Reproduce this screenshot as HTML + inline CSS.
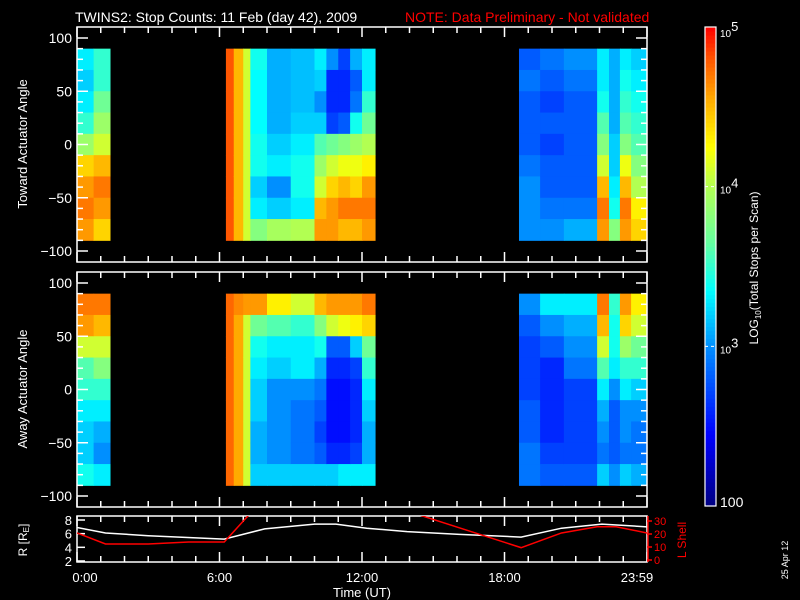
<!DOCTYPE html>
<html><head><meta charset="utf-8"><style>
html,body{margin:0;padding:0;background:#000;width:800px;height:600px;overflow:hidden}
svg{display:block;font-family:"Liberation Sans",sans-serif}
</style></head><body>
<svg id="root" width="800" height="600" viewBox="0 0 800 600">
<rect width="800" height="600" fill="#000"/>
<text x="75" y="22" fill="#fff" font-size="14">TWINS2: Stop Counts: 11 Feb (day  42), 2009</text>
<text x="405" y="22" fill="#f00" font-size="14">NOTE: Data Preliminary - Not validated</text>
<g id="spec1"></g>
<g id="spec2"></g>
<g id="axes"></g>
<g id="lines"></g>
<g id="cbar"></g>
<text transform="translate(27,144) rotate(-90)" text-anchor="middle" fill="#fff" font-size="13">Toward Actuator Angle</text>
<text transform="translate(27,389) rotate(-90)" text-anchor="middle" fill="#fff" font-size="13">Away Actuator Angle</text>
<text transform="translate(27,540) rotate(-90)" text-anchor="middle" fill="#fff" font-size="12">R [R<tspan font-size="8" dy="2">E</tspan><tspan dy="-2">]</tspan></text>
<text transform="translate(686,540) rotate(-90)" text-anchor="middle" fill="#f00" font-size="12">L Shell</text>
<text x="362" y="597" text-anchor="middle" fill="#fff" font-size="13">Time (UT)</text>
<text transform="translate(788,560) rotate(-90)" text-anchor="middle" fill="#fff" font-size="9">25 Apr 12</text>
<text transform="translate(758,268) rotate(-90)" text-anchor="middle" fill="#fff" font-size="12">LOG<tspan font-size="8" dy="3">10</tspan><tspan dy="-3">(Total Stops per Scan)</tspan></text>
</svg>
<script>
// ---- data ----
const angleEdges = [90,70,50,30,10,-10,-30,-50,-70,-90];
const timeEdges = [[0,0.7],[0.7,1.39],[6.27,6.6],[6.6,7.0],[7.0,7.3],[7.3,8.0],[8.0,9.0],[9.0,10.0],[10.0,10.5],[10.5,11.0],[11.0,11.5],[11.5,12.0],[12.0,12.55],[18.61,19.5],[19.5,20.5],[20.5,21.9],[21.9,22.4],[22.4,22.86],[22.86,23.33],[23.33,24]];
const towardLog = [
[3.3,3.2,3.3,3.5,3.9,4.4,4.6,4.7,4.6],
[3.5,3.5,3.7,3.9,4.1,4.5,4.7,4.6,4.4],
[4.8,4.8,4.8,4.8,4.8,4.8,4.8,4.8,4.8],
[4.5,4.5,4.5,4.5,4.5,4.5,4.5,4.5,4.5],
[4.1,4.1,4.1,4.1,4.1,4.1,4.1,4.1,4.1],
[3.4,3.35,3.35,3.35,3.4,3.4,3.2,3.3,3.8],
[3.1,3.1,3.1,3.1,3.2,3.3,3.0,3.2,3.95],
[3.15,3.15,3.15,3.2,3.3,3.4,3.4,3.3,4.0],
[3.3,3.2,3.0,3.2,3.6,3.9,4.1,4.5,4.6],
[3.0,2.6,2.6,2.7,3.7,4.1,4.4,4.6,4.6],
[2.7,2.6,2.6,2.8,3.8,4.2,4.5,4.7,4.5],
[3.1,2.8,2.9,3.4,3.9,4.2,4.4,4.7,4.5],
[3.3,3.3,3.5,3.7,4.0,4.3,4.6,4.7,4.6],
[2.8,2.9,2.8,2.8,2.8,2.9,3.0,3.0,3.0],
[2.9,2.8,2.7,2.8,2.7,2.8,2.8,2.9,3.0],
[3.0,2.9,2.8,2.8,2.8,2.8,2.8,2.9,3.1],
[3.3,3.3,3.4,3.6,3.8,4.1,4.5,4.7,4.6],
[3.1,3.1,3.1,3.1,3.2,3.2,3.3,3.4,3.8],
[3.3,3.4,3.5,3.6,3.8,4.2,4.5,4.7,4.6],
[3.2,3.3,3.4,3.5,3.6,3.8,4.0,4.3,4.4]];
const awayLog = [
[4.7,4.6,4.1,3.6,3.5,3.3,3.2,3.2,3.4],
[4.7,4.5,4.1,3.8,3.5,3.3,3.1,3.0,3.3],
[4.75,4.75,4.75,4.75,4.75,4.75,4.75,4.75,4.75],
[4.65,4.55,4.55,4.55,4.55,4.55,4.55,4.55,4.55],
[4.6,4.1,4.1,4.1,4.1,4.1,4.1,4.1,4.1],
[4.6,3.7,3.4,3.3,3.2,3.2,3.1,3.1,3.2],
[4.3,3.6,3.3,3.2,3.0,3.0,3.0,3.0,3.2],
[4.1,3.5,3.3,3.3,3.0,2.9,2.9,2.9,3.2],
[4.5,3.8,3.4,3.1,2.9,2.8,2.7,2.8,3.2],
[4.6,4.1,2.8,2.6,2.5,2.5,2.5,2.6,3.2],
[4.6,4.2,2.8,2.6,2.5,2.5,2.5,2.6,3.3],
[4.6,4.3,3.2,2.7,2.6,2.6,2.6,2.7,3.3],
[4.7,4.4,3.7,3.5,3.3,3.2,3.1,3.1,3.3],
[3.0,2.8,2.7,2.7,2.7,2.8,2.8,2.9,2.9],
[3.3,3.0,2.8,2.6,2.6,2.6,2.6,2.7,2.8],
[3.3,3.1,3.0,2.9,2.7,2.7,2.7,2.7,2.8],
[4.7,4.5,4.1,3.6,3.3,3.1,3.0,2.9,3.2],
[3.5,3.4,3.4,3.3,3.0,2.8,2.8,2.8,3.0],
[4.6,4.4,3.9,3.5,3.3,3.0,3.0,2.9,3.2],
[4.3,4.1,3.7,3.5,3.2,3.0,2.9,2.9,3.1]];
const orbitTimes = [0,1.2,3.0,6.2,7.9,10.0,10.9,12.2,13.9,16.1,18.7,20.4,22.1,24];
const rValues = [6.9,6.1,5.7,5.2,6.7,7.4,7.4,6.8,6.3,5.9,5.5,6.8,7.4,7.0];
const lTimes = [0,1.2,3.0,4.7,6.2,7.5,13.5,18.7,20.4,21.9,22.7,24];
const lValues = [20.8,12.3,12.3,13.8,13.8,40,40,9.5,20.8,25.6,25.6,20.8];
const yTicks = [-100,-50,0,50,100];
const rTicks = [2,4,6,8];
const lTicks = [0,10,20,30];
const timeTickLabels = ["0:00","6:00","12:00","18:00","23:59"];
const timeTickHours = [0,6,12,18,24];

// ---- scales ----
const NS="http://www.w3.org/2000/svg";
const X0=77,X1=647;
const x = t => X0 + t/24*(X1-X0);
const panels=[{top:27,bot:262},{top:272,bot:507}];
const yAng = (p,a) => { const c=(panels[p].top+panels[p].bot)/2; return c - a*1.065; };
const yR = r => 520 + (8-r)*6.83;
const yL = l => 560 - l*1.3;
const cmapStops=[[0,0,0,130],[0.15,0,0,255],[0.33,0,140,255],[0.45,0,255,255],[0.55,100,255,160],[0.67,180,255,80],[0.75,255,255,0],[0.85,255,170,0],[0.93,255,90,0],[1,255,0,0]];
function jet(v){
  const f=Math.max(0,Math.min(1,(v-2)/3));
  for(let i=1;i<cmapStops.length;i++){
    const a=cmapStops[i-1],b=cmapStops[i];
    if(f<=b[0]){const u=(f-a[0])/(b[0]-a[0]);
      return `rgb(${Math.round(a[1]+u*(b[1]-a[1]))},${Math.round(a[2]+u*(b[2]-a[2]))},${Math.round(a[3]+u*(b[3]-a[3]))})`;}
  }
  return 'rgb(255,0,0)';
}
function mk(tag,attrs,parent){const e=document.createElementNS(NS,tag);for(const k in attrs)e.setAttribute(k,attrs[k]);parent.appendChild(e);return e;}

// ---- spectrograms ----
[[towardLog,'spec1',0],[awayLog,'spec2',1]].forEach(([data,id,p])=>{
  const g=document.getElementById(id);
  data.forEach((col,i)=>{
    col.forEach((v,j)=>{
      const y1=yAng(p,angleEdges[j]), y2=yAng(p,angleEdges[j+1]);
      const r=mk('rect',{x:x(timeEdges[i][0]),y:y1,width:x(timeEdges[i][1])-x(timeEdges[i][0])+0.5,height:y2-y1+0.5,fill:jet(v)},g);
      
      
    });
  });
});

// ---- axes ----
const ax=document.getElementById('axes');
function frame(top,bot){
  mk('rect',{x:X0,y:top,width:X1-X0,height:bot-top,fill:'none',stroke:'#fff','stroke-width':1.5},ax);
  for(let h=0;h<=24;h++){
    const L=(h%6===0)?10:6;
    mk('line',{x1:x(h),x2:x(h),y1:top,y2:top+L,stroke:'#fff','stroke-width':1.5},ax);
    mk('line',{x1:x(h),x2:x(h),y1:bot,y2:bot-L,stroke:'#fff','stroke-width':1.5},ax);
  }
}
panels.forEach((pn,p)=>{
  frame(pn.top,pn.bot);
  for(let a=-100;a<=100;a+=10){
    const L=(a%50===0)?11:6, y=yAng(p,a);
    mk('line',{x1:X0,x2:X0+L,y1:y,y2:y,stroke:'#fff','stroke-width':1.5},ax);
    mk('line',{x1:X1,x2:X1-L,y1:y,y2:y,stroke:'#fff','stroke-width':1.5},ax);
  }
  yTicks.forEach(a=>{
    const t=mk('text',{x:72,y:yAng(p,a)+5,'text-anchor':'end',fill:'#fff','font-size':14},ax);
    t.textContent=(a<0?'\u2212':'')+Math.abs(a);
    
    
  });
});
frame(516,562);
rTicks.forEach(r=>{
  mk('line',{x1:X0,x2:X0+8,y1:yR(r),y2:yR(r),stroke:'#fff','stroke-width':1.5},ax);
  const t=mk('text',{x:72,y:yR(r)+5,'text-anchor':'end',fill:'#fff','font-size':13},ax);
  t.textContent=r;
  
  
});
lTicks.forEach(l=>{
  mk('line',{x1:X1,x2:X1+5,y1:yL(l),y2:yL(l),stroke:'#f00','stroke-width':1.5},ax);
  const t=mk('text',{x:654,y:yL(l)+4,fill:'#f00','font-size':11},ax);
  t.textContent=l;
  
  
});
mk('line',{x1:X1+1,x2:X1+1,y1:516,y2:562,stroke:'#f00','stroke-width':1.5},ax);
timeTickHours.forEach((h,i)=>{
  const t=mk('text',{x:x(h)+(i===0?8:(i===4?-10:0)),y:582,'text-anchor':'middle',fill:'#fff','font-size':13},ax);
  t.textContent=timeTickLabels[i];
  
  
});

// ---- orbit lines ----
const lg=document.getElementById('lines');
const defs=mk('defs',{},lg);
const cp=mk('clipPath',{id:'lineclip'},defs);
mk('rect',{x:X0,y:516,width:X1-X0,height:46},cp);
const rl=mk('polyline',{points:orbitTimes.map((t,i)=>x(t)+','+yR(rValues[i])).join(' '),fill:'none',stroke:'#fff','stroke-width':1.5,'clip-path':'url(#lineclip)'},lg);


const ll=mk('polyline',{points:lTimes.map((t,i)=>x(t)+','+yL(lValues[i])).join(' '),fill:'none',stroke:'#f00','stroke-width':1.5,'clip-path':'url(#lineclip)'},lg);



// ---- colorbar ----
const cb=document.getElementById('cbar');
const CT=27,CB=506;
for(let i=0;i<120;i++){
  const v0=2+3*i/120, y=CB-(CB-CT)*(i+1)/120;
  mk('rect',{x:705,y:y,width:11,height:(CB-CT)/120+0.6,fill:jet(v0+0.0125)},cb);
}
mk('rect',{x:705,y:CT,width:11,height:CB-CT,fill:'none',stroke:'#fff','stroke-width':1.2},cb);
[[3,'3'],[4,'4']].forEach(([v])=>{
  const y=CB-(CB-CT)*(v-2)/3;
  mk('line',{x1:705,x2:716,y1:y,y2:y,stroke:'#fff','stroke-dasharray':'3,3'},cb);
});
[[5,'5'],[4,'4'],[3,'3']].forEach(([v,e])=>{
  const y=CB-(CB-CT)*(v-2)/3;
  const t=mk('text',{x:720,y:y+(v===5?10:7),fill:'#fff','font-size':10},cb);
  t.innerHTML='10<tspan dy="-6" font-size="13">'+e+'</tspan>';
  
  
});
const t100=mk('text',{x:720,y:507,fill:'#fff','font-size':14},cb);
t100.textContent='100';


</script>
</body></html>
